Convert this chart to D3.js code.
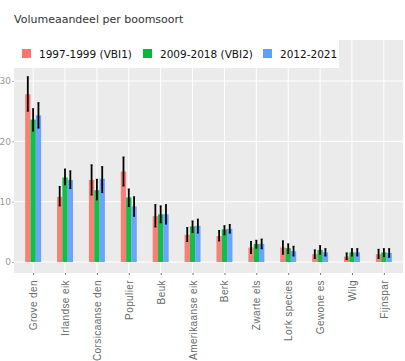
<!DOCTYPE html>
<html>
<head>
<meta charset="utf-8">
<script src="https://cdn.jsdelivr.net/npm/d3@7.9.0/dist/d3.min.js"></script>
<style>
  body { margin: 0; background: #fff; }
  svg { font-family: "DejaVu Sans", Verdana, sans-serif; }
</style>
</head>
<body>
<svg id="chart" width="405" height="361"></svg>
<script>
const species = ['Grove den', 'Irlandse eik', 'Corsicaanse den', 'Populier', 'Beuk',
  'Amerikaanse eik', 'Berk', 'Zwarte els', 'Lork species', 'Gewone es', 'Wilg', 'Fijnspar'];
const periods = ['1997-1999 (VBI1)', '2009-2018 (VBI2)', '2012-2021'];
const colorList = ['#F8766D', '#00BA38', '#619CFF'];

// share (%) per period, with lower / upper bound of the error bar
const vbi1 = [27.8, 10.8, 13.6, 15.0, 7.6, 4.5, 4.3, 2.4, 2.4, 1.3, 0.9, 1.3];
const vbi1Lo = [25.0, 9.3, 11.1, 12.6, 5.8, 3.4, 3.5, 1.4, 1.3, 0.6, 0.4, 0.6];
const vbi1Hi = [30.7, 12.5, 16.1, 17.4, 9.5, 5.7, 5.2, 3.4, 3.5, 2.0, 1.5, 2.1];
const vbi2 = [23.6, 14.0, 11.9, 10.7, 7.9, 5.9, 5.4, 3.0, 2.3, 2.0, 1.6, 1.6];
const vbi2Lo = [21.7, 12.8, 10.3, 9.2, 6.5, 4.9, 4.5, 2.3, 1.4, 1.3, 1.0, 0.9];
const vbi2Hi = [25.4, 15.4, 13.7, 12.1, 9.3, 6.8, 6.0, 3.6, 3.0, 2.7, 2.2, 2.2];
const recent = [24.3, 13.6, 13.8, 9.2, 7.9, 6.0, 5.5, 3.0, 1.8, 1.6, 1.6, 1.5];
const recentLo = [22.2, 12.2, 11.5, 7.6, 6.3, 4.8, 4.8, 2.2, 1.0, 1.0, 1.0, 0.8];
const recentHi = [26.4, 15.1, 15.8, 10.8, 9.5, 7.1, 6.2, 3.8, 2.6, 2.2, 2.2, 2.2];
const yTicks = [0, 10, 20, 30];

const seriesVals = [vbi1, vbi2, recent];
const seriesLo = [vbi1Lo, vbi2Lo, recentLo];
const seriesHi = [vbi1Hi, vbi2Hi, recentHi];

const rows = [];
species.forEach((s, i) => {
  periods.forEach((p, j) => {
    rows.push({ species: s, period: p, value: seriesVals[j][i], lo: seriesLo[j][i], hi: seriesHi[j][i] });
  });
});

const svg = d3.select('#chart');
const panel = { left: 14, right: 403, top: 40, bottom: 273 };

const step = (panel.right - panel.left) / (species.length + 0.2);
const x = d3.scalePoint().domain(species)
  .range([panel.left + 0.6 * step, panel.right - 0.6 * step]);
const groupW = step * 0.5;
const xInner = d3.scaleBand().domain(periods).range([-groupW / 2, groupW / 2]);
const y = d3.scaleLinear().domain([0, 30]).range([262, 81]);
const color = d3.scaleOrdinal().domain(periods).range(colorList);

// title
svg.append('text')
  .attr('x', 14).attr('y', 23)
  .attr('font-size', 11).attr('fill', '#333')
  .text('Volumeaandeel per boomsoort');

// panel background
svg.append('rect')
  .attr('x', panel.left).attr('y', panel.top)
  .attr('width', panel.right - panel.left).attr('height', panel.bottom - panel.top)
  .attr('fill', '#ebebeb');

// grid
svg.append('g').selectAll('line').data(yTicks).join('line')
  .attr('x1', panel.left).attr('x2', panel.right)
  .attr('y1', d => y(d)).attr('y2', d => y(d))
  .attr('stroke', '#fff').attr('stroke-width', 1);
svg.append('g').selectAll('line').data(species).join('line')
  .attr('x1', d => x(d)).attr('x2', d => x(d))
  .attr('y1', panel.top).attr('y2', panel.bottom)
  .attr('stroke', '#fff').attr('stroke-width', 1);

// y axis
const yAxis = svg.append('g')
  .attr('transform', `translate(${panel.left},0)`)
  .call(d3.axisLeft(y).tickValues(yTicks).tickSize(2).tickPadding(1));
yAxis.select('.domain').remove();
yAxis.selectAll('line').attr('stroke', '#b3b3b3');
yAxis.selectAll('text').attr('font-size', 9).attr('fill', '#999')
  .attr('font-family', '"DejaVu Sans", sans-serif');

// x axis
const xAxis = svg.append('g')
  .attr('transform', `translate(0,${panel.bottom})`)
  .call(d3.axisBottom(x).tickSize(2).tickPadding(3));
xAxis.select('.domain').remove();
xAxis.selectAll('line').attr('stroke', '#777');
xAxis.selectAll('text')
  .attr('font-size', 10).attr('fill', '#6a6a6a')
  .attr('font-family', '"Liberation Sans", Arial, sans-serif')
  .attr('letter-spacing', 0.4)
  .attr('transform', 'rotate(-90)')
  .attr('text-anchor', 'end')
  .attr('dy', '0.35em')
  .attr('x', -7).attr('y', 0);

// bars
svg.append('g').selectAll('rect').data(rows).join('rect')
  .attr('x', d => x(d.species) + xInner(d.period))
  .attr('width', xInner.bandwidth())
  .attr('y', d => y(d.value))
  .attr('height', d => y(0) - y(d.value))
  .attr('fill', d => color(d.period))
  .attr('fill-opacity', 0.92);

// error bars
const eb = svg.append('g').selectAll('g').data(rows).join('g')
  .attr('transform', d => `translate(${x(d.species) + xInner(d.period) + xInner.bandwidth() / 2},0)`);
eb.append('line')
  .attr('y1', d => y(d.lo)).attr('y2', d => y(d.hi))
  .attr('stroke', '#000').attr('stroke-width', 1.8);
eb.append('line')
  .attr('x1', -1).attr('x2', 1)
  .attr('y1', d => y(d.hi)).attr('y2', d => y(d.hi))
  .attr('stroke', '#000').attr('stroke-width', 1);
eb.append('line')
  .attr('x1', -1).attr('x2', 1)
  .attr('y1', d => y(d.lo)).attr('y2', d => y(d.lo))
  .attr('stroke', '#000').attr('stroke-width', 1);

// legend
const legend = svg.append('g');
legend.append('rect')
  .attr('x', 14).attr('y', 40).attr('width', 325).attr('height', 28)
  .attr('fill', '#fff');
const legendX = [22, 143, 263];
const items = legend.selectAll('g.item').data(periods).join('g')
  .attr('class', 'item')
  .attr('transform', (d, i) => `translate(${legendX[i]},49)`);
items.append('rect')
  .attr('width', 9).attr('height', 9)
  .attr('fill', d => color(d));
items.append('text')
  .attr('x', 17).attr('y', 9)
  .attr('font-size', 10.5).attr('fill', '#111')
  .text(d => d);
</script>
</body>
</html>
